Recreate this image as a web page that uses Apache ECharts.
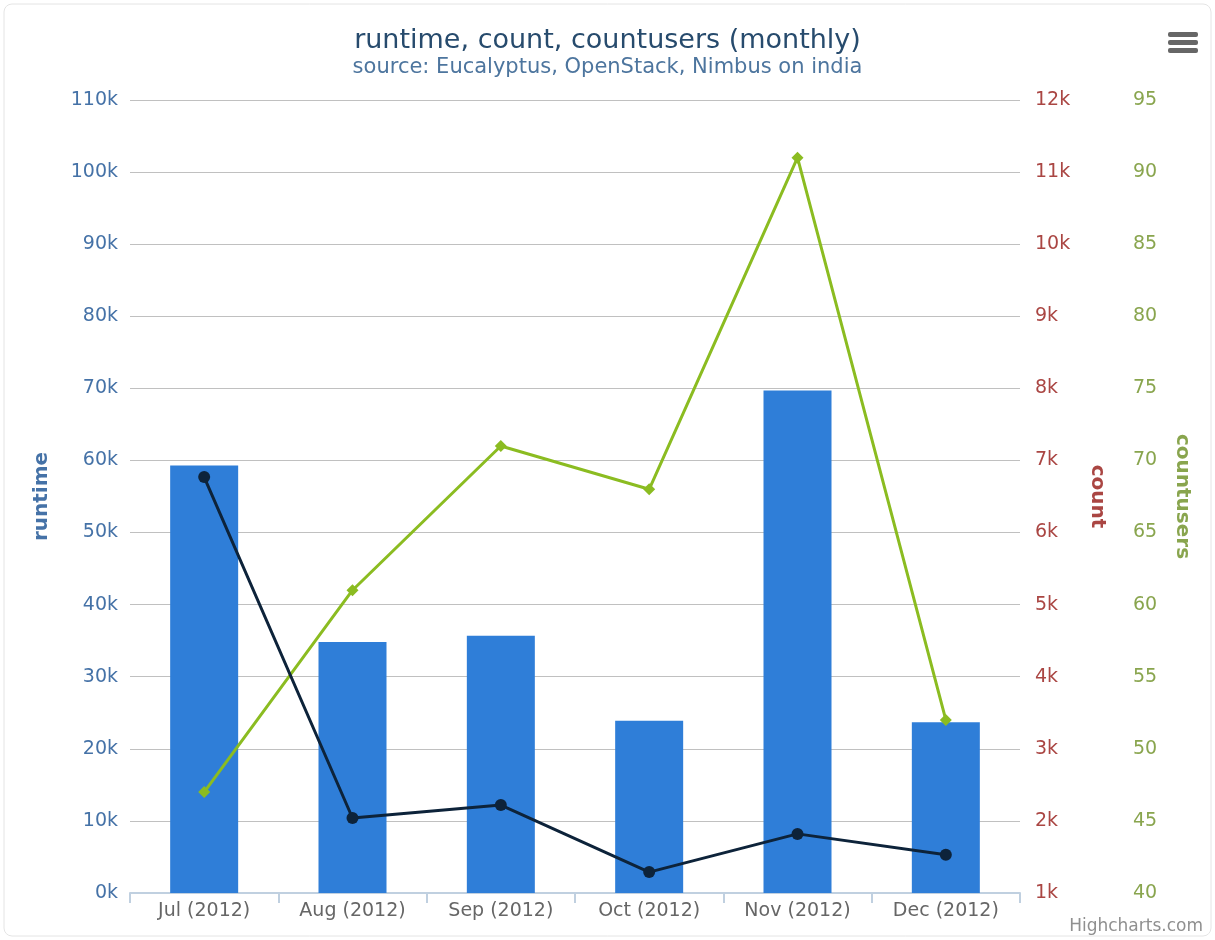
<!DOCTYPE html>
<html>
<head>
<meta charset="utf-8">
<script src="https://cdn.jsdelivr.net/npm/echarts@6/dist/echarts.min.js"></script>
<style>
  html, body { margin: 0; padding: 0; background: #fff; }
  #chart { width: 1215px; height: 940px; }
</style>
</head>
<body>
<div id="chart"></div>
<script>
  // monthly data
  var months = ['Jul (2012)', 'Aug (2012)', 'Sep (2012)', 'Oct (2012)', 'Nov (2012)', 'Dec (2012)']
  var runtime = [59300, 34800, 35700, 23900, 69700, 23700]
  var count = [6770, 2040, 2220, 1290, 1820, 1530]
  var countusers = [47, 61, 71, 68, 91, 52]

  var font = 'DejaVu Sans, Verdana, sans-serif'
  var kLabel = function (v) { return (v / 1000) + 'k' }

  var chart = echarts.init(document.getElementById('chart'))
  var option = {
    animation: false,
    textStyle: { fontFamily: font },
    title: {
      text: 'runtime, count, countusers (monthly)',
      subtext: 'source: Eucalyptus, OpenStack, Nimbus on india',
      left: 'center',
      top: 22,
      itemGap: 3,
      textStyle: { color: '#274b6d', fontSize: 27, fontWeight: 'normal', fontFamily: font },
      subtextStyle: { color: '#4d759e', fontSize: 21, fontFamily: font }
    },
    grid: { left: 130, right: 195, top: 100, bottom: 47 },
    xAxis: {
      type: 'category',
      data: months,
      axisLine: { lineStyle: { color: '#C0D0E0', width: 2 } },
      axisTick: { show: true, length: 10, lineStyle: { color: '#C0D0E0', width: 2 } },
      axisLabel: { color: '#666', fontSize: 19, margin: 9, fontFamily: font }
    },
    yAxis: [
      {
        type: 'value',
        name: 'runtime',
        nameLocation: 'middle',
        nameGap: 78,
        nameTextStyle: { color: '#4572A7', fontWeight: 'bold', fontSize: 20, fontFamily: font },
        min: 0, max: 110000, interval: 10000,
        axisLine: { show: false },
        axisTick: { show: false },
        axisLabel: { color: '#4572A7', fontSize: 19, margin: 12, formatter: kLabel, fontFamily: font },
        splitLine: { lineStyle: { color: '#C0C0C0' } }
      },
      {
        type: 'value',
        name: 'count',
        position: 'right',
        nameLocation: 'middle',
        nameRotate: -90,
        nameGap: 67,
        nameTextStyle: { color: '#AA4643', fontWeight: 'bold', fontSize: 20, fontFamily: font },
        min: 1000, max: 12000, interval: 1000,
        axisLine: { show: false },
        axisTick: { show: false },
        axisLabel: { color: '#AA4643', fontSize: 19, margin: 15, formatter: kLabel, fontFamily: font },
        splitLine: { show: false }
      },
      {
        type: 'value',
        name: 'countusers',
        position: 'right',
        offset: 98,
        nameLocation: 'middle',
        nameRotate: -90,
        nameGap: 54,
        nameTextStyle: { color: '#89A54E', fontWeight: 'bold', fontSize: 20, fontFamily: font },
        min: 40, max: 95, interval: 5,
        axisLine: { show: false },
        axisTick: { show: false },
        axisLabel: { color: '#89A54E', fontSize: 19, margin: 15, fontFamily: font },
        splitLine: { show: false }
      }
    ],
    series: [
      {
        name: 'runtime',
        type: 'bar',
        yAxisIndex: 0,
        data: runtime,
        barWidth: 68,
        itemStyle: { color: '#2f7ed8' }
      },
      {
        name: 'countusers',
        type: 'line',
        yAxisIndex: 2,
        data: countusers,
        symbol: 'diamond',
        symbolSize: 12,
        lineStyle: { color: '#8bbc21', width: 3 },
        itemStyle: { color: '#8bbc21' }
      },
      {
        name: 'count',
        type: 'line',
        yAxisIndex: 1,
        data: count,
        symbol: 'circle',
        symbolSize: 12,
        lineStyle: { color: '#0d233a', width: 3 },
        itemStyle: { color: '#0d233a' }
      }
    ],
    graphic: [
      {
        type: 'rect',
        shape: { x: 4, y: 4, width: 1207, height: 932, r: 8 },
        style: { fill: 'none', stroke: '#e4e4e4', lineWidth: 1 },
        silent: true
      },
      { type: 'rect', shape: { x: 1168, y: 32, width: 30, height: 5, r: 2 }, style: { fill: '#666' } },
      { type: 'rect', shape: { x: 1168, y: 40, width: 30, height: 5, r: 2 }, style: { fill: '#666' } },
      { type: 'rect', shape: { x: 1168, y: 48, width: 30, height: 5, r: 2 }, style: { fill: '#666' } },
      {
        type: 'text',
        right: 12,
        top: 918,
        style: { text: 'Highcharts.com', fill: '#909090', fontSize: 17, fontFamily: font }
      }
    ]
  }
  chart.setOption(option)
</script>
</body>
</html>
